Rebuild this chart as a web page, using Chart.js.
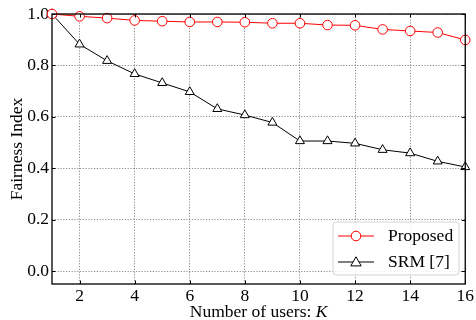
<!DOCTYPE html>
<html>
<head>
<meta charset="utf-8">
<script src="https://cdn.jsdelivr.net/npm/chart.js@4/dist/chart.umd.min.js"></script>
<style>
html,body{margin:0;padding:0;background:#fff;}
#wrap{width:476px;height:320px;position:relative;}
</style>
</head>
<body>
<div id="wrap"><canvas id="c" width="476" height="320"></canvas></div>
<script>
const users = [1,2,3,4,5,6,7,8,9,10,11,12,13,14,15,16];
const proposed = [1.0,0.991,0.984,0.975,0.972,0.969,0.969,0.968,0.964,0.964,0.957,0.956,0.940,0.934,0.928,0.899];
const srm = [1.0,0.882,0.818,0.767,0.732,0.697,0.631,0.607,0.578,0.506,0.506,0.497,0.472,0.459,0.427,0.405];
const xTicks = [2,4,6,8,10,12,14,16];
const yTicks = [0.0,0.2,0.4,0.6,0.8,1.0];
const seriesNames = ['Proposed','SRM [7]'];
const xTitle = 'Number of users: ';
const xTitleVar = 'K';
const yTitle = 'Fairness Index';

const FONT = '"Liberation Serif", "Times New Roman", serif';
const FS = 17.5;

const framePlugin = {
  id: 'frame',
  afterDraw(chart) {
    const ctx = chart.ctx;
    const a = chart.chartArea;
    const xs = chart.scales.x, ys = chart.scales.y;
    ctx.save();
    // inward ticks
    ctx.strokeStyle = '#000';
    ctx.lineWidth = 1;
    ctx.beginPath();
    xTicks.forEach(v => {
      const px = Math.round(xs.getPixelForValue(v)) + 0.5;
      ctx.moveTo(px, a.bottom); ctx.lineTo(px, a.bottom - 3.5);
      ctx.moveTo(px, a.top); ctx.lineTo(px, a.top + 3.5);
    });
    yTicks.forEach(v => {
      const py = Math.round(ys.getPixelForValue(v)) + 0.5;
      ctx.moveTo(a.left, py); ctx.lineTo(a.left + 3.5, py);
      ctx.moveTo(a.right, py); ctx.lineTo(a.right - 3.5, py);
    });
    ctx.stroke();
    // frame
    ctx.lineWidth = 1.3;
    ctx.strokeRect(a.left, a.top, a.right - a.left, a.bottom - a.top);

    // titles
    ctx.fillStyle = '#000';
    ctx.font = FS + 'px ' + FONT;
    ctx.textBaseline = 'alphabetic';
    const w1 = ctx.measureText(xTitle).width;
    ctx.font = 'italic ' + FS + 'px ' + FONT;
    const w2 = ctx.measureText(xTitleVar).width;
    const cx = (a.left + a.right) / 2;
    let sx = cx - (w1 + w2) / 2;
    ctx.font = FS + 'px ' + FONT;
    ctx.textAlign = 'left';
    ctx.fillText(xTitle, sx, 316.5);
    ctx.font = 'italic ' + FS + 'px ' + FONT;
    ctx.fillText(xTitleVar, sx + w1, 316.5);

    ctx.save();
    ctx.translate(17, (a.top + a.bottom) / 2);
    ctx.rotate(-Math.PI / 2);
    ctx.font = FS + 'px ' + FONT;
    ctx.textAlign = 'center';
    ctx.textBaseline = 'middle';
    ctx.fillText(yTitle, 0, 0);
    ctx.restore();

    // legend
    const lx = 333, ly = 222, lw = 126, lh = 53, r = 3;
    ctx.beginPath();
    ctx.moveTo(lx + r, ly);
    ctx.arcTo(lx + lw, ly, lx + lw, ly + lh, r);
    ctx.arcTo(lx + lw, ly + lh, lx, ly + lh, r);
    ctx.arcTo(lx, ly + lh, lx, ly, r);
    ctx.arcTo(lx, ly, lx + lw, ly, r);
    ctx.closePath();
    ctx.fillStyle = 'rgba(255,255,255,0.85)';
    ctx.fill();
    ctx.strokeStyle = '#d4d4d4';
    ctx.lineWidth = 1;
    ctx.stroke();

    chart.data.datasets.forEach((ds, i) => {
      const yy = 236 + i * 26;
      ctx.strokeStyle = ds.borderColor;
      ctx.lineWidth = 1;
      ctx.beginPath();
      ctx.moveTo(338, yy); ctx.lineTo(374, yy);
      ctx.stroke();
      ctx.fillStyle = '#fff';
      ctx.beginPath();
      if (ds.pointStyle === 'circle') {
        ctx.arc(356, yy, 4.8, 0, Math.PI * 2);
      } else {
        const s = 5.2;
        ctx.moveTo(356, yy - s);
        ctx.lineTo(356 + s, yy + s * 0.75);
        ctx.lineTo(356 - s, yy + s * 0.75);
        ctx.closePath();
      }
      ctx.fill();
      ctx.stroke();
      ctx.fillStyle = '#000';
      ctx.font = FS + 'px ' + FONT;
      ctx.textAlign = 'left';
      ctx.textBaseline = 'middle';
      ctx.fillText(ds.label, 388, yy);
    });
    ctx.restore();
  }
};

const gridStyle = {
  color: 'rgba(60,60,60,0.75)',
  lineWidth: 0.8,
  drawTicks: false,
};

new Chart(document.getElementById('c'), {
  type: 'line',
  data: {
    datasets: [
      {
        label: seriesNames[0],
        data: users.map((u, i) => ({x: u, y: proposed[i]})),
        borderColor: '#ff0000',
        backgroundColor: '#ffffff',
        borderWidth: 1,
        pointStyle: 'circle',
        pointRadius: 4.8,
        pointBorderWidth: 1,
        clip: false,
        tension: 0
      },
      {
        label: seriesNames[1],
        data: users.map((u, i) => ({x: u, y: srm[i]})),
        borderColor: '#000000',
        backgroundColor: '#ffffff',
        borderWidth: 1,
        pointStyle: 'triangle',
        pointRadius: 5.2,
        pointBorderWidth: 1,
        clip: false,
        tension: 0
      }
    ]
  },
  options: {
    responsive: false,
    animation: false,
    devicePixelRatio: 1,
    layout: {padding: {top: 14, right: 8, left: 0, bottom: 0}},
    plugins: {legend: {display: false}, tooltip: {enabled: false}},
    scales: {
      x: {
        type: 'linear',
        min: 1, max: 16,
        afterBuildTicks: s => { s.ticks = xTicks.map(v => ({value: v})); },
        afterFit: s => { s.height = 36; },
        grid: Object.assign({}, gridStyle),
        border: {display: true, width: 0, dash: [1.2, 1.6]},
        ticks: {
          color: '#000',
          font: {family: FONT, size: FS},
          padding: 2,
          maxRotation: 0,
          callback: v => String(v)
        }
      },
      y: {
        type: 'linear',
        min: -0.05, max: 1.0,
        afterBuildTicks: s => { s.ticks = yTicks.map(v => ({value: v})); },
        afterFit: s => { s.width = 52; },
        grid: Object.assign({}, gridStyle),
        border: {display: true, width: 0, dash: [1.2, 1.6]},
        ticks: {
          color: '#000',
          font: {family: FONT, size: FS},
          padding: 3,
          callback: v => Number(v).toFixed(1)
        }
      }
    }
  },
  plugins: [framePlugin]
});
</script>
</body>
</html>
